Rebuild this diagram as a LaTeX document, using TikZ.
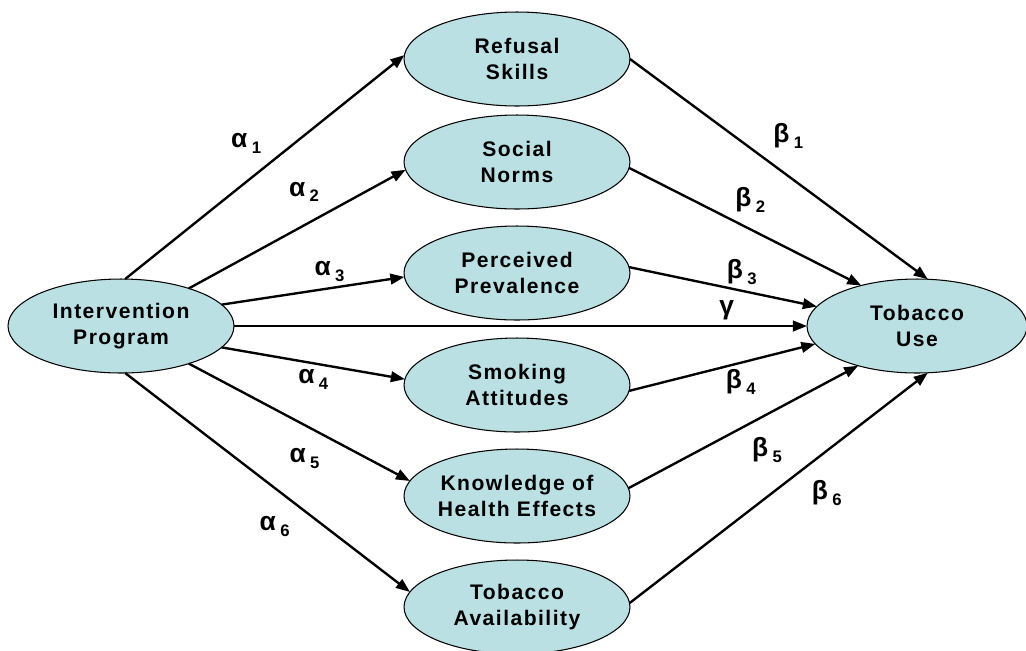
\documentclass[tikz,border=0pt]{standalone}
\usepackage{fontspec}
\usepackage{xcolor}
\usepackage{tikz}
\usetikzlibrary{shapes.geometric, arrows.meta}

\newfontfamily\diagfont{Liberation Sans}[LetterSpace=7]
\definecolor{medfill}{RGB}{187,224,228}
\newcommand{\coeff}[2]{#1\,\raisebox{-3.3pt}{\fontsize{9.5}{9.5}\selectfont #2}}

\begin{document}
\begin{tikzpicture}[
        x=0.02cm, y=-0.02cm,
        font=\diagfont\bfseries\fontsize{12}{14.5}\selectfont,
        var/.style={ellipse, draw=black, line width=0.6pt, fill=medfill,
            minimum width=4.52cm, minimum height=1.88cm, inner sep=0pt, outer sep=0pt, align=center},
        arr/.style={-{Triangle[length=8pt,width=6pt]}, line width=1.35pt},
        coef/.style={font=\diagfont\bfseries\fontsize{15}{17}\selectfont, inner sep=3pt}
    ]
    \useasboundingbox (0,0) rectangle (1026,650);

    \node[var] (prog)  at (121,326) {Intervention\\Program};
    \node[var] (refus) at (517,59)  {Refusal\\Skills};
    \node[var] (norms) at (517,162) {Social\\Norms};
    \node[var] (prev)  at (517,273) {Perceived\\Prevalence};
    \node[var] (attit) at (517,385) {Smoking\\Attitudes};
    \node[var] (know)  at (517,496) {Knowledge of\\Health Effects};
    \node[var] (avail) at (517,607) {Tobacco\\Availability};
    \node[var, minimum width=4.4cm] (use) at (917,326) {Tobacco\\Use};

    % program -> mediators
    \draw[arr] (prog.85)  -- node[coef, pos=.51, above left, yshift=3pt]{\coeff{α}{1}} (refus.178);
    \draw[arr] (prog.29)  -- node[coef, pos=.63, above left, yshift=3pt]{\coeff{α}{2}} (norms.184);
    \draw[arr] (prog.12)  -- node[coef, pos=.59, above]{\coeff{α}{3}} (prev.182);
    \draw[arr] (prog.-12) -- node[coef, pos=.5, below]{\coeff{α}{4}} (attit.177);
    \draw[arr] (prog.-29) -- node[coef, pos=.62, below left, yshift=-3pt]{\coeff{α}{5}} (know.172);
    \draw[arr] (prog.-85) -- node[coef, pos=.6, below left, yshift=-3pt]{\coeff{α}{6}} (avail.172);

    % direct path
    \draw[arr] (prog.east) -- node[coef, pos=.86, above]{γ} (use.west);

    % mediators -> tobacco use
    \draw[arr] (refus.east) -- node[coef, pos=.46, above right, yshift=3pt]{\coeff{β}{1}} (use.77);
    \draw[arr] (norms.-3)   -- node[coef, pos=.43, above right]{\coeff{β}{2}} (use.144);
    \draw[arr] (prev.3)     -- node[coef, pos=.6, above]{\coeff{β}{3}} (use.169);
    \draw[arr] (attit.-3)   -- node[coef, pos=.6, below]{\coeff{β}{4}} (use.190);
    \draw[arr] (know.4)     -- node[coef, pos=.51, below right, yshift=-3pt]{\coeff{β}{5}} (use.214);
    \draw[arr] (avail.2)    -- node[coef, pos=.59, below right, yshift=-4pt]{\coeff{β}{6}} (use.283);
\end{tikzpicture}
\end{document}
